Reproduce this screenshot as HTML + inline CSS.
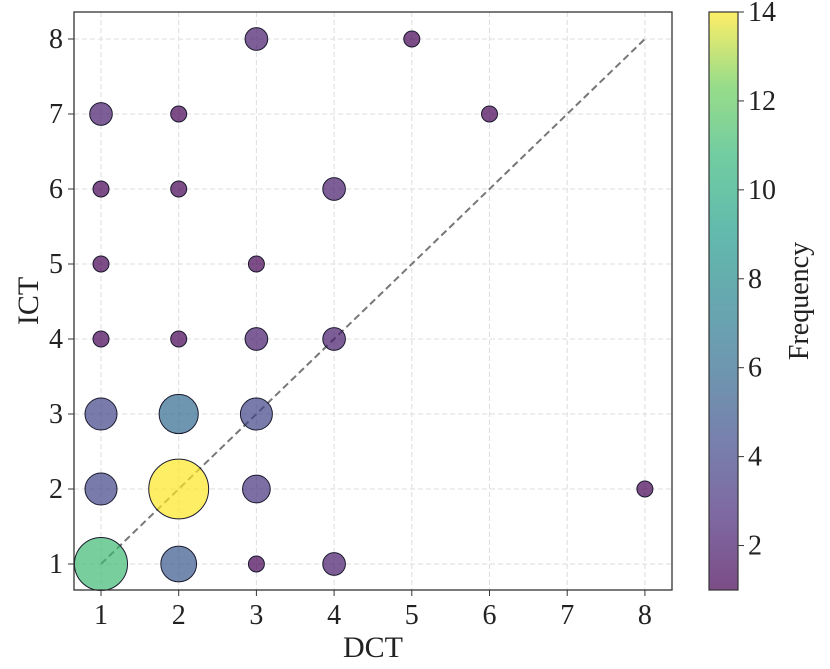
<!DOCTYPE html>
<html><head><meta charset="utf-8"><style>
body{margin:0;background:#fff;}
svg text{font-family:"Liberation Serif","Times New Roman",serif !important;fill:#222;}
</style></head><body>
<svg id="chart" width="830" height="664" xmlns="http://www.w3.org/2000/svg" font-family="Liberation Serif, serif">
<defs>
<linearGradient id="vir" x1="0" y1="1" x2="0" y2="0">
<stop offset="0" stop-color="#440154"/><stop offset="0.125" stop-color="#482878"/><stop offset="0.25" stop-color="#3e4989"/><stop offset="0.375" stop-color="#31688e"/><stop offset="0.5" stop-color="#26828e"/><stop offset="0.625" stop-color="#1f9e89"/><stop offset="0.75" stop-color="#35b779"/><stop offset="0.875" stop-color="#6ece58"/><stop offset="1" stop-color="#fde725"/>
</linearGradient>
</defs>
<g id="grid"></g>
<line id="diag" stroke="#777" stroke-width="2" stroke-dasharray="7,4"/>
<g id="marks"></g>
<rect x="74" y="12" width="598" height="578" fill="none" stroke="#333" stroke-width="1.3"/>
<g id="ticks"></g>
<text x="373" y="657" font-size="30" text-anchor="middle">DCT</text>
<text transform="translate(38,301) rotate(-90)" font-size="30" text-anchor="middle">ICT</text>
<rect x="709" y="12" width="29" height="578" fill="url(#vir)" fill-opacity="0.7" stroke="#333" stroke-width="1.2"/>
<g id="cbticks"></g>
<text transform="translate(808,301) rotate(-90)" font-size="28" text-anchor="middle">Frequency</text>
</svg>
<script>
const dctVals=[1,2,3,4,1,2,3,8,1,2,3,1,2,3,4,1,3,1,2,4,1,2,6,3,5];
const ictVals=[1,1,1,1,2,2,2,2,3,3,3,4,4,4,4,5,5,6,6,6,7,7,7,8,8];
const freqVals=[11,5,1,2,4,14,3,1,4,6,4,1,1,2,2,1,1,1,1,2,2,1,1,2,1];
const xTicks=[1,2,3,4,5,6,7,8];
const yTicks=[1,2,3,4,5,6,7,8];
const cTicks=[2,4,6,8,10,12,14];
const NS='http://www.w3.org/2000/svg';
const xS=v=>101+(v-1)*77.7;
const yS=v=>564-(v-1)*75;
const cS=v=>590-(v-1)*(578/13);
const vir=[[68,1,84],[72,40,120],[62,73,137],[49,104,142],[38,130,142],[31,158,137],[53,183,121],[110,206,88],[253,231,37]];
function col(f){let t=(f-1)/13*8;let i=Math.min(7,Math.floor(t)),u=t-i;const a=vir[i],b=vir[i+1];return 'rgb('+a.map((c,k)=>Math.round(c+(b[k]-c)*u)).join(',')+')';}
function mk(tag,attrs,parent){const e=document.createElementNS(NS,tag);for(const k in attrs)e.setAttribute(k,attrs[k]);parent.appendChild(e);return e;}
const grid=document.getElementById('grid'),ticks=document.getElementById('ticks'),marks=document.getElementById('marks'),cb=document.getElementById('cbticks');
xTicks.forEach(v=>{
 const g=mk('line',{x1:xS(v),x2:xS(v),y1:12,y2:590,stroke:'#ddd','stroke-dasharray':'5,3'},grid);
 
 
 const t=mk('line',{x1:xS(v),x2:xS(v),y1:590,y2:596,stroke:'#333'},ticks);
 
 
 const l=mk('text',{x:xS(v),y:624,'font-size':28,'text-anchor':'middle'},ticks);l.textContent=v;
 
 
});
yTicks.forEach(v=>{
 const g=mk('line',{x1:74,x2:672,y1:yS(v),y2:yS(v),stroke:'#ddd','stroke-dasharray':'5,3'},grid);
 
 
 const t=mk('line',{x1:68,x2:74,y1:yS(v),y2:yS(v),stroke:'#333'},ticks);
 
 
 const l=mk('text',{x:63,y:yS(v)+9,'font-size':28,'text-anchor':'end'},ticks);l.textContent=v;
 
 
});
const d=document.getElementById('diag');
d.setAttribute('x1',xS(1));d.setAttribute('y1',yS(1));d.setAttribute('x2',xS(8));d.setAttribute('y2',yS(8));
dctVals.forEach((x,i)=>{
 const f=freqVals[i];
 const c=mk('circle',{cx:xS(x),cy:yS(ictVals[i]),r:8*Math.sqrt(f),fill:col(f),'fill-opacity':0.7,stroke:'#1a1a2e','stroke-width':1},marks);
 
 
});
cTicks.forEach(v=>{
 const t=mk('line',{x1:738,x2:744,y1:cS(v),y2:cS(v),stroke:'#333'},cb);
 
 
 const l=mk('text',{x:748,y:cS(v)+9,'font-size':28},cb);l.textContent=v;
 
 
});
</script>
</body></html>
